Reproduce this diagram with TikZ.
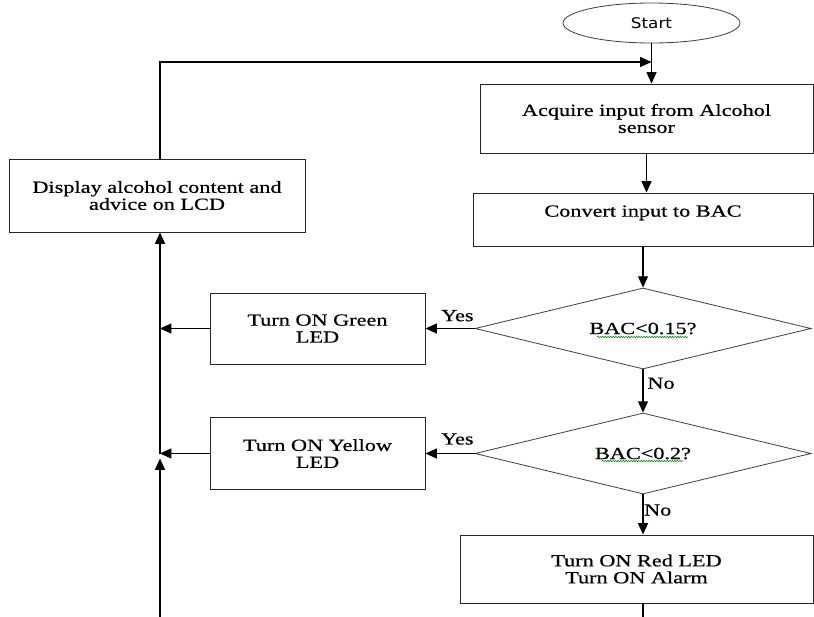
\documentclass[tikz,border=0pt]{standalone}
\usepackage{fontspec}
\setmainfont{Liberation Serif}[FakeStretch=1.31, FakeBold=0.6]
\newfontfamily\startfont{DejaVu Sans}[FakeStretch=1.15]
\usetikzlibrary{arrows.meta,shapes,positioning,decorations.pathmorphing}
\tikzstyle{process} = [draw=black!85, line width=0.8pt, rectangle, align=center, inner sep=0pt]
\tikzstyle{decision} = [draw=black!75, line width=0.7pt, diamond, aspect=4, inner sep=0pt, minimum width=10.08cm, minimum height=2.43cm]
\tikzstyle{startstop} = [draw=black!75, line width=0.7pt, ellipse, minimum width=5.31cm, minimum height=1.2cm, font=\startfont\fontsize{12.5}{14}\selectfont]
\tikzstyle{arrow} = [line width=0.9pt, -{Triangle[length=0.34cm,width=0.3cm]}]
\tikzstyle{wavy} = [green!55!black, line width=0.5pt, decorate, decoration={snake, amplitude=0.6pt, segment length=2.2pt}]

\begin{document}
\begin{tikzpicture}[x=0.03cm, y=-0.03cm, font=\fontsize{14.5}{14.5}\selectfont]
\useasboundingbox (0,0) rectangle (814,616);
\clip (0,0) rectangle (814,616);

% main column
\node[startstop] (start) at (651.5,23) {Start};
\node[process, minimum width=9.99cm, minimum height=2.07cm] (acquire) at (646.5,118.5) {Acquire input from Alcohol\\sensor};
\node[process, minimum width=10.2cm, minimum height=1.59cm] (convert) at (643,219.5) {Convert input to BAC\\\mbox{}};
\node[decision] (d1) at (643,328.5) {BAC<0.15?};
\node[decision] (d2) at (643,453.5) {BAC<0.2?};
\node[process, minimum width=10.59cm, minimum height=2.04cm] (red) at (636.5,569) {Turn ON Red LED\\Turn ON Alarm};

% spell check marks
\draw[wavy] ([shift={(-46,8.5)}]d1.center) -- ++(91,0);
\draw[wavy] ([shift={(-41,7.5)}]d2.center) -- ++(81,0);

% left column
\node[process, minimum width=8.88cm, minimum height=2.19cm] (display) at (157,195.5) {Display alcohol content and\\advice on LCD};
\node[process, minimum width=6.45cm, minimum height=2.13cm] (green) at (317.5,328.5) {Turn ON Green\\LED};
\node[process, minimum width=6.45cm, minimum height=2.16cm] (yellow) at (317.5,453.5) {Turn ON Yellow\\LED};

\coordinate (top) at ([xshift=0.09cm]display.north);
\coordinate (bottom) at ([xshift=0.09cm]display.south);
\coordinate (loop) at (start.south |- 0,62);
\coordinate (jg) at (bottom |- green.west);
\coordinate (jy) at (bottom |- yellow.west);

% connectors
\draw[arrow] (start.south) -- (start.south |- acquire.north);
\draw[arrow] (top) |- (loop);
\draw[arrow] (acquire.south) -- (acquire.south |- convert.north);
\draw[arrow] (convert.south) -- (d1.north);
\draw[arrow] (d1.west) -- node[above=0.2cm, pos=0.35, inner sep=0pt] {Yes} (green.east);
\draw[arrow] (d1.south) -- node[right, pos=0.32] {No} (d2.north);
\draw[arrow] (d2.west) -- node[above=0.25cm, pos=0.35, inner sep=0pt] {Yes} (yellow.east);
\draw[arrow] (d2.south) -- node[right, pos=0.39, inner xsep=0.5pt] {No} (d2.south |- red.north);
\draw[arrow] (green.west) -- (jg);
\draw[arrow] (yellow.west) -- (jy);
\draw[arrow] (jy) -- (bottom);
\draw[arrow] (d2.south |- red.south) -- ++(0,40) -| ([yshift=-0.15cm]jy);
\end{tikzpicture}
\end{document}
